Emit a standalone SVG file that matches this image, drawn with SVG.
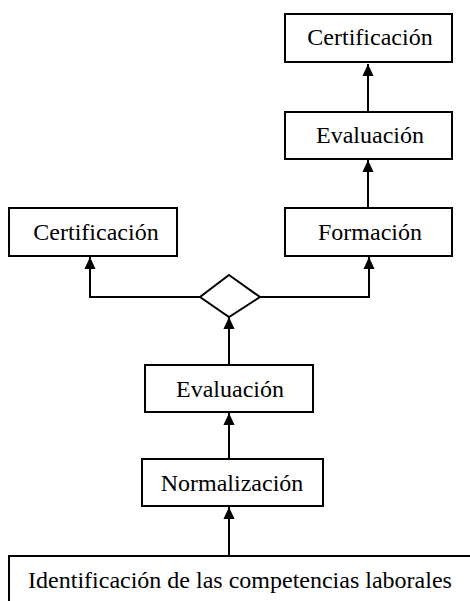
<svg xmlns="http://www.w3.org/2000/svg" width="470" height="601" viewBox="0 0 470 601">
<defs>
<style>
.box{fill:#fff;stroke:#000;stroke-width:2}
.lbl{font-family:"Liberation Serif","Times New Roman",serif;font-size:24px;fill:#000;text-anchor:middle}
.con{fill:none;stroke:#000;stroke-width:2}
</style>
<marker id="ah" markerUnits="userSpaceOnUse" markerWidth="12" markerHeight="14" refX="13" refY="6" orient="auto" viewBox="0 0 13 12">
<path d="M0,0 L13,6 L0,12 Z" fill="#000"/>
</marker>
</defs>
<rect width="470" height="601" fill="#fff"/>
<g id="connectors">
<path class="con" d="M368,112 V64" marker-end="url(#ah)"/>
<path class="con" d="M368,208 V160" marker-end="url(#ah)"/>
<path class="con" d="M200,297 H90 V257" marker-end="url(#ah)"/>
<path class="con" d="M260,297 H369 V257" marker-end="url(#ah)"/>
<path class="con" d="M229,365 V317" marker-end="url(#ah)"/>
<path class="con" d="M229,459 V413" marker-end="url(#ah)"/>
<path class="con" d="M229,556 V507" marker-end="url(#ah)"/>
</g>
<g id="cert-top"><rect class="box" x="285" y="14" width="167" height="48"/><text class="lbl" x="370" y="45">Certificación</text></g>
<g id="eval-top"><rect class="box" x="285" y="112" width="167" height="47"/><text class="lbl" x="370" y="143">Evaluación</text></g>
<g id="formacion"><rect class="box" x="285" y="208" width="167" height="48"/><text class="lbl" x="370" y="240">Formación</text></g>
<g id="cert-left"><rect class="box" x="9" y="208" width="168" height="48"/><text class="lbl" x="96" y="240">Certificación</text></g>
<g id="decision"><path class="box" d="M229,275 L260,297 L229,317 L200,297 Z"/></g>
<g id="eval-mid"><rect class="box" x="145" y="365" width="168" height="47"/><text class="lbl" x="230" y="397">Evaluación</text></g>
<g id="normalizacion"><rect class="box" x="142" y="459" width="181" height="47"/><text class="lbl" x="232" y="491">Normalización</text></g>
<g id="identificacion"><rect class="box" x="9" y="556" width="470" height="60"/><text class="lbl" x="240" y="588">Identificación de las competencias laborales</text></g>
</svg>
